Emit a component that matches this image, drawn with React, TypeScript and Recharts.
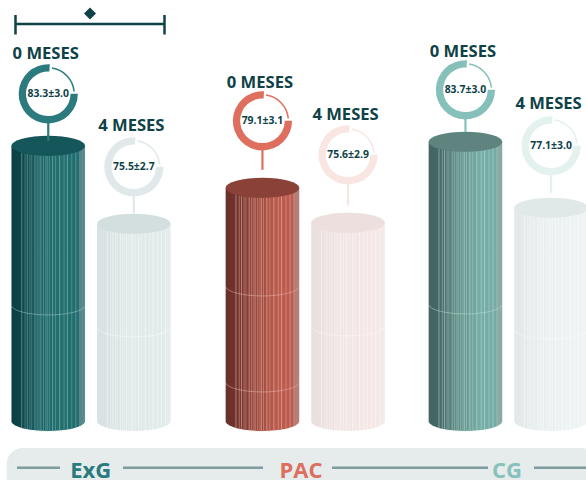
import React from "react";
import { BarChart, Bar, XAxis, YAxis, Customized, Sector } from "recharts";

// Group names and mean ± SD at each time point
const groups = ["ExG", "PAC", "CG"];
const monthLabels = ["0 MESES", "4 MESES"];
const meanMonth0 = [83.3, 79.1, 83.7];
const meanMonth4 = [75.5, 75.6, 77.1];
const sdMonth0 = [3.0, 3.1, 3.0];
const sdMonth4 = [2.7, 2.9, 3.0];

const rows = groups.map((group, i) => ({
  group,
  m0: meanMonth0[i],
  m4: meanMonth4[i],
  sd0: sdMonth0[i],
  sd4: sdMonth4[i],
}));

const INK = "#0e4247";
const FONT = "'Open Sans', sans-serif";
const BASE_Y = 422;
const RX = 37;
const RY = 10;

// Shades for each cylinder: [group][month]
const palette = [
  [
    { ring: "#2b7a7e", top: "#14565a", stops: ["#0c3f43", "#0e464a", "#1c666a", "#22706f", "#1f6a6e", "#5d8b8d"], stripe: "#a9cfd0", so: 0.5, seam: 0.6 },
    { ring: "#e0e8e9", top: "#d3dede", stops: ["#d9e2e3", "#dae3e4", "#dfe8e8", "#e1eaea", "#e2ebeb", "#e5ecec"], stripe: "#ffffff", so: 0.5, seam: 0.5 },
  ],
  [
    { ring: "#de6f5e", top: "#8a4238", stops: ["#69302a", "#6e332c", "#99483c", "#bb5c4d", "#b95a4c", "#b28077"], stripe: "#eebcb2", so: 0.6, seam: 0.6 },
    { ring: "#f9e6e3", top: "#ecdfdd", stops: ["#e8dfde", "#ebe1e0", "#f0e5e3", "#f4e7e5", "#f5e8e6", "#f4eae8"], stripe: "#ffffff", so: 0.5, seam: 0.5 },
  ],
  [
    { ring: "#85c1ba", top: "#5f8480", stops: ["#436664", "#456866", "#639089", "#76aea6", "#74aaa3", "#8ca9a6"], stripe: "#c5e3de", so: 0.55, seam: 0.6 },
    { ring: "#e3f1ef", top: "#e0e8e8", stops: ["#e3e8e8", "#e5eaea", "#e9efef", "#ecf3f2", "#edf4f3", "#eef4f3"], stripe: "#ffffff", so: 0.5, seam: 0.5 },
  ],
];

// Per-cylinder spacing: ring centre above the top, heading above the ring centre,
// stem length below the ring, seams above the base
const ringLift = [
  [52, 57],
  [67, 68],
  [52, 62],
];
const headingGap = [
  [40.5, 42],
  [39, 41],
  [39, 43],
];
const stemLength = [
  [18, 17],
  [20, 22],
  [13, 18],
];
const seams = [
  [[116], [94]],
  [[135, 39], [95]],
  [[117], [92]],
];
const groupShift = [0, 5.6, 0];

// Flute lines across a cylinder: fraction of its half width, stroke width
const flutes: [number, number][] = [
  [-0.72, 0.9], [-0.63, 0.7], [-0.57, 0.9], [-0.5, 0.7], [-0.45, 0.6], [-0.36, 0.9], [-0.3, 0.7],
  [-0.25, 0.6], [-0.2, 0.9], [-0.13, 0.7], [-0.07, 0.6], [-0.03, 0.9], [0.03, 0.7], [0.12, 1],
  [0.2, 0.7], [0.31, 1], [0.43, 0.7], [0.52, 1], [0.64, 0.7], [0.75, 0.9], [0.86, 0.7],
];

const arcDepth = (u: number) => RY * Math.sqrt(1 - u * u);

function Ring({ cx, cy, color, text }: { cx: number; cy: number; color: string; text: string }) {
  return (
    <g>
      <Sector cx={cx} cy={cy} innerRadius={22.3} outerRadius={29.6} startAngle={87} endAngle={360} fill={color} stroke="none" />
      <Sector cx={cx} cy={cy} innerRadius={25.2} outerRadius={26.7} startAngle={82} endAngle={5} fill={color} stroke="none" />
      <text x={cx} y={cy + 3.6} textAnchor="middle" fontFamily={FONT} fontWeight={700} fontSize={10.4} fill={INK}>
        {text}
      </text>
    </g>
  );
}

const makeCylinder = (month: number) => (props: any) => {
  const { x, y, width, index, payload } = props;
  const shift = groupShift[index];
  const left = x + shift;
  const cx = left + width / 2;
  const shade = palette[index][month];
  const id = `cyl-${index}-${month}`;
  const ringY = y - ringLift[index][month];
  const mean = month === 0 ? payload.m0 : payload.m4;
  const sd = month === 0 ? payload.sd0 : payload.sd4;
  const stopAt = [0, 0.14, 0.42, 0.7, 0.9, 0.96];
  return (
    <g>
      <defs>
        <linearGradient id={id} x1="0" y1="0" x2="1" y2="0">
          {shade.stops.map((c, i) => (
            <stop key={i} offset={stopAt[i]} stopColor={c} />
          ))}
        </linearGradient>
      </defs>
      <path
        d={`M${left},${y} V${BASE_Y} A${RX},${RY} 0 0 0 ${left + width},${BASE_Y} V${y} Z`}
        fill={`url(#${id})`}
      />
      {flutes.map(([u, w]) => {
        const fx = cx + u * (width / 2);
        return (
          <line
            key={u}
            x1={fx}
            x2={fx}
            y1={y + arcDepth(u)}
            y2={BASE_Y + arcDepth(u)}
            stroke={shade.stripe}
            strokeWidth={w}
            strokeOpacity={shade.so}
          />
        );
      })}
      {seams[index][month].map((h) => (
        <path
          key={h}
          d={`M${left},${BASE_Y - h} A${RX},${RY} 0 0 0 ${left + width},${BASE_Y - h}`}
          fill="none"
          stroke={shade.stripe}
          strokeWidth={0.8}
          strokeOpacity={shade.seam}
        />
      ))}
      <ellipse cx={cx} cy={y} rx={width / 2} ry={RY} fill={shade.top} />
      <line x1={cx} x2={cx} y1={ringY + 29} y2={ringY + 29 + stemLength[index][month]} stroke={shade.ring} strokeWidth={2.2} />
      <Ring cx={cx} cy={ringY} color={shade.ring} text={`${mean.toFixed(1)}±${sd.toFixed(1)}`} />
      <text x={cx - 2.5} y={ringY - headingGap[index][month] + 6} textAnchor="middle" fontFamily={FONT} fontWeight={700} fontSize={16.6} fill={INK}>
        {monthLabels[month]}
      </text>
    </g>
  );
};

// Rounded footer band with its rules, plus the bracket over the first group
function Decorations() {
  const rules = [
    [17, 60],
    [123, 263],
    [332, 488],
    [534, 586],
  ];
  return (
    <g>
      <rect x={6.7} y={448} width={590} height={60} rx={16} fill="#e6ebeb" />
      {rules.map(([a, b]) => (
        <line key={a} x1={a} x2={b} y1={467.7} y2={467.7} stroke="#7f9c9f" strokeWidth={2.4} />
      ))}
      <path d="M15.5,15 V34.5 M164.5,15 V34.5 M15.5,24 H164.5" fill="none" stroke={INK} strokeWidth={2.5} />
      <path d="M90,7.5 L96,13.5 L90,19.5 L84,13.5 Z" fill={INK} />
    </g>
  );
}

const groupInk = ["#2a7a7e", "#dd6f5f", "#86c2bb"];

function GroupTick({ x, payload, index }: any) {
  return (
    <text x={x + [0, 1.6, -1][index]} y={478} textAnchor="middle" fontFamily={FONT} fontWeight={700} fontSize={22} fill={groupInk[index]}>
      {payload.value}
    </text>
  );
}

export default function App() {
  return (
    <div style={{ position: "absolute", left: 0, top: 0 }}>
      <BarChart
        width={586}
        height={480}
        data={rows}
        margin={{ top: 0, left: -13.55, right: -26.25, bottom: 0 }}
        barSize={73.6}
        barGap={12}
        style={{ overflow: "hidden" }}
      >
        <Customized component={<Decorations />} />
        <XAxis dataKey="group" height={58} axisLine={false} tickLine={false} tick={<GroupTick />} interval={0} />
        <YAxis hide domain={[55.68, 97.88]} />
        <Bar dataKey="m0" isAnimationActive={false} shape={makeCylinder(0)} />
        <Bar dataKey="m4" isAnimationActive={false} shape={makeCylinder(1)} />
      </BarChart>
    </div>
  );
}
